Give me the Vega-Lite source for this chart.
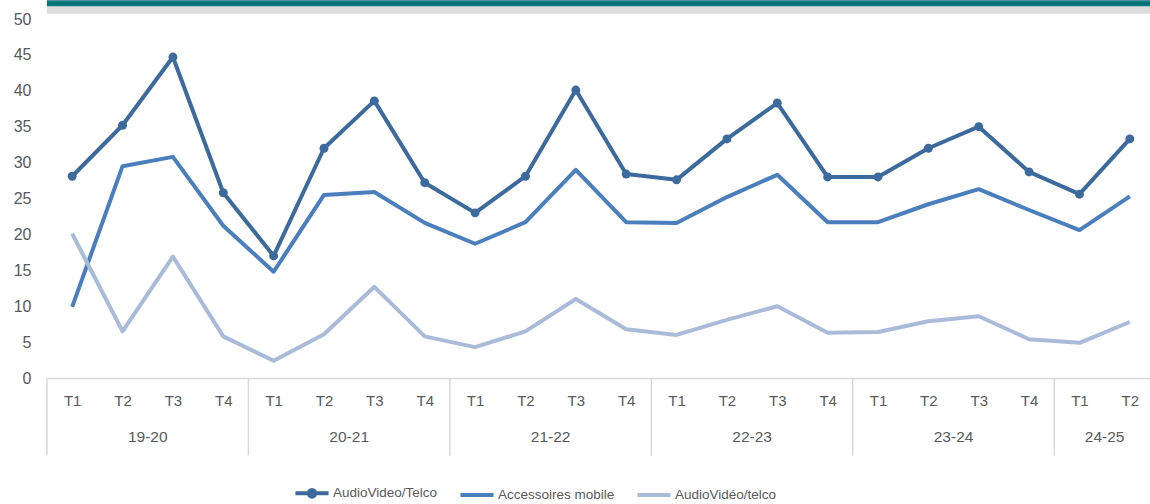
{
  "$schema": "https://vega.github.io/schema/vega-lite/v6.json",
  "autosize": {"type": "none"},
  "width": 1108,
  "height": 359,
  "padding": {"left": 47, "top": 19, "right": 0, "bottom": 126},
  "background": "white",
  "config": {
    "view": {"stroke": null},
    "font": "Liberation Sans",
    "axis": {"labelFont": "Liberation Sans", "labelColor": "#595959", "labelFontSize": 15}
  },
  "datasets": {
    "vals": [
      {"k": "19-20 T1", "AudioVideo/Telco": 28.1, "Accessoires mobile": 9.9, "AudioVidéo/telco": 20.1},
      {"k": "19-20 T2", "AudioVideo/Telco": 35.2, "Accessoires mobile": 29.5, "AudioVidéo/telco": 6.5},
      {"k": "19-20 T3", "AudioVideo/Telco": 44.7, "Accessoires mobile": 30.8, "AudioVidéo/telco": 16.9},
      {"k": "19-20 T4", "AudioVideo/Telco": 25.8, "Accessoires mobile": 21.2, "AudioVidéo/telco": 5.8},
      {"k": "20-21 T1", "AudioVideo/Telco": 17.0, "Accessoires mobile": 14.8, "AudioVidéo/telco": 2.4},
      {"k": "20-21 T2", "AudioVideo/Telco": 32.0, "Accessoires mobile": 25.5, "AudioVidéo/telco": 6.1},
      {"k": "20-21 T3", "AudioVideo/Telco": 38.6, "Accessoires mobile": 25.9, "AudioVidéo/telco": 12.7},
      {"k": "20-21 T4", "AudioVideo/Telco": 27.2, "Accessoires mobile": 21.6, "AudioVidéo/telco": 5.8},
      {"k": "21-22 T1", "AudioVideo/Telco": 23.0, "Accessoires mobile": 18.7, "AudioVidéo/telco": 4.3},
      {"k": "21-22 T2", "AudioVideo/Telco": 28.1, "Accessoires mobile": 21.7, "AudioVidéo/telco": 6.5},
      {"k": "21-22 T3", "AudioVideo/Telco": 40.1, "Accessoires mobile": 29.0, "AudioVidéo/telco": 11.0},
      {"k": "21-22 T4", "AudioVideo/Telco": 28.4, "Accessoires mobile": 21.7, "AudioVidéo/telco": 6.8},
      {"k": "22-23 T1", "AudioVideo/Telco": 27.6, "Accessoires mobile": 21.6, "AudioVidéo/telco": 6.0},
      {"k": "22-23 T2", "AudioVideo/Telco": 33.3, "Accessoires mobile": 25.2, "AudioVidéo/telco": 8.1},
      {"k": "22-23 T3", "AudioVideo/Telco": 38.3, "Accessoires mobile": 28.3, "AudioVidéo/telco": 10.0},
      {"k": "22-23 T4", "AudioVideo/Telco": 28.0, "Accessoires mobile": 21.7, "AudioVidéo/telco": 6.3},
      {"k": "23-24 T1", "AudioVideo/Telco": 28.0, "Accessoires mobile": 21.7, "AudioVidéo/telco": 6.4},
      {"k": "23-24 T2", "AudioVideo/Telco": 32.0, "Accessoires mobile": 24.2, "AudioVidéo/telco": 7.9},
      {"k": "23-24 T3", "AudioVideo/Telco": 35.0, "Accessoires mobile": 26.3, "AudioVidéo/telco": 8.6},
      {"k": "23-24 T4", "AudioVideo/Telco": 28.7, "Accessoires mobile": 23.4, "AudioVidéo/telco": 5.4},
      {"k": "24-25 T1", "AudioVideo/Telco": 25.6, "Accessoires mobile": 20.6, "AudioVidéo/telco": 4.9},
      {"k": "24-25 T2", "AudioVideo/Telco": 33.3, "Accessoires mobile": 25.3, "AudioVidéo/telco": 7.8}
    ],
    "years": [
      {"k": "19-20 T2", "year": "19-20"},
      {"k": "20-21 T2", "year": "20-21"},
      {"k": "21-22 T2", "year": "21-22"},
      {"k": "22-23 T2", "year": "22-23"},
      {"k": "23-24 T2", "year": "23-24"},
      {"k": "24-25 T1", "year": "24-25"}
    ],
    "seps": [
      {"k": "19-20 T1"}, {"k": "20-21 T1"}, {"k": "21-22 T1"}, {"k": "22-23 T1"}, {"k": "23-24 T1"}, {"k": "24-25 T1"}
    ],
    "band": [{"level": 52.2, "c": "teal"}]
  },
  "resolve": {"scale": {"y": "independent"}, "axis": {"y": "independent"}},
  "encoding": {
    "x": {
      "field": "k",
      "type": "ordinal",
      "scale": {
        "type": "point",
        "padding": 0.5,
        "domain": ["19-20 T1","19-20 T2","19-20 T3","19-20 T4","20-21 T1","20-21 T2","20-21 T3","20-21 T4","21-22 T1","21-22 T2","21-22 T3","21-22 T4","22-23 T1","22-23 T2","22-23 T3","22-23 T4","23-24 T1","23-24 T2","23-24 T3","23-24 T4","24-25 T1","24-25 T2"]
      },
      "axis": {
        "title": null,
        "labelAngle": 0,
        "labelExpr": "split(datum.label, ' ')[1]",
        "ticks": false,
        "domainColor": "#D9D9D9",
        "domainWidth": 1.5,
        "labelPadding": 15,
        "labelFontSize": 15,
        "labelOverlap": false,
        "grid": false
      }
    }
  },
  "layer": [
    {
      "data": {"name": "vals"},
      "transform": [{"fold": ["AudioVideo/Telco", "Accessoires mobile", "AudioVidéo/telco"], "as": ["series", "value"]}],
      "encoding": {
        "y": {
          "field": "value",
          "type": "quantitative",
          "scale": {"domain": [0, 50], "nice": false},
          "axis": {
            "title": null,
            "values": [0, 5, 10, 15, 20, 25, 30, 35, 40, 45, 50],
            "tickCount": 11,
            "labelOverlap": false,
            "labelFontSize": 16,
            "labelPadding": 16,
            "domain": false,
            "ticks": false,
            "grid": false
          }
        }
      },
      "layer": [
        {
          "mark": {"type": "line", "strokeWidth": 4, "strokeJoin": "round"},
          "encoding": {
            "color": {
              "field": "series",
              "type": "nominal",
              "scale": {
                "domain": ["AudioVideo/Telco", "Accessoires mobile", "AudioVidéo/telco"],
                "range": ["#3D6A9D", "#4A7EBD", "#AABBD9"]
              },
              "legend": {
                "title": null,
                "orient": "none",
                "direction": "horizontal",
                "legendX": 246,
                "legendY": 455,
                "symbolType": "stroke",
                "symbolSize": 1100,
                "symbolStrokeWidth": 4,
                "labelFontSize": 13.5,
                "labelColor": "#595959",
                "labelFont": "Liberation Sans",
                "labelOffset": 2,
                "columnPadding": 14,
                "encode": {
                  "symbols": {
                    "update": {
                      "shape": {"signal": "datum.value === 'AudioVideo/Telco' ? 'M-1,0L1,0M-0.2,0A0.2,0.2,0,1,1,0.2,0A0.2,0.2,0,1,1,-0.2,0Z' : 'stroke'"},
                      "fill": {"signal": "datum.value === 'AudioVideo/Telco' ? '#3D6A9D' : 'transparent'"}
                    }
                  }
                }
              }
            },
            "order": {"field": "series"}
          }
        },
        {
          "transform": [{"filter": "datum.series === 'AudioVideo/Telco'"}],
          "mark": {"type": "point", "filled": true, "size": 80, "opacity": 1, "color": "#3D6A9D"}
        }
      ]
    },
    {
      "data": {"name": "seps"},
      "mark": {"type": "rule", "color": "#D9D9D9", "strokeWidth": 1.5, "xOffset": -25.2, "clip": false},
      "encoding": {
        "y": {"datum": 0, "type": "quantitative", "scale": {"domain": [0, 50], "nice": false}, "axis": null},
        "y2": {"datum": -10.8}
      }
    },
    {
      "data": {"name": "years"},
      "mark": {"type": "text", "dx": 25.2, "fontSize": 15.5, "color": "#595959", "font": "Liberation Sans", "baseline": "middle", "clip": false},
      "encoding": {
        "y": {"datum": -8.2, "type": "quantitative", "scale": {"domain": [0, 50], "nice": false}, "axis": null},
        "text": {"field": "year"}
      }
    },
    {
      "data": {"name": "band"},
      "layer": [
        {
          "mark": {"type": "rule", "color": "#D6D6D6", "strokeWidth": 8, "clip": false, "opacity": 0.8},
          "encoding": {"x": null, "y": {"datum": 51.3, "type": "quantitative", "scale": {"domain": [0, 50], "nice": false}, "axis": null}}
        },
        {
          "mark": {"type": "rule", "color": "#00777F", "strokeWidth": 6, "clip": false},
          "encoding": {"x": null, "y": {"field": "level", "type": "quantitative", "axis": null}}
        }
      ]
    }
  ]
}
